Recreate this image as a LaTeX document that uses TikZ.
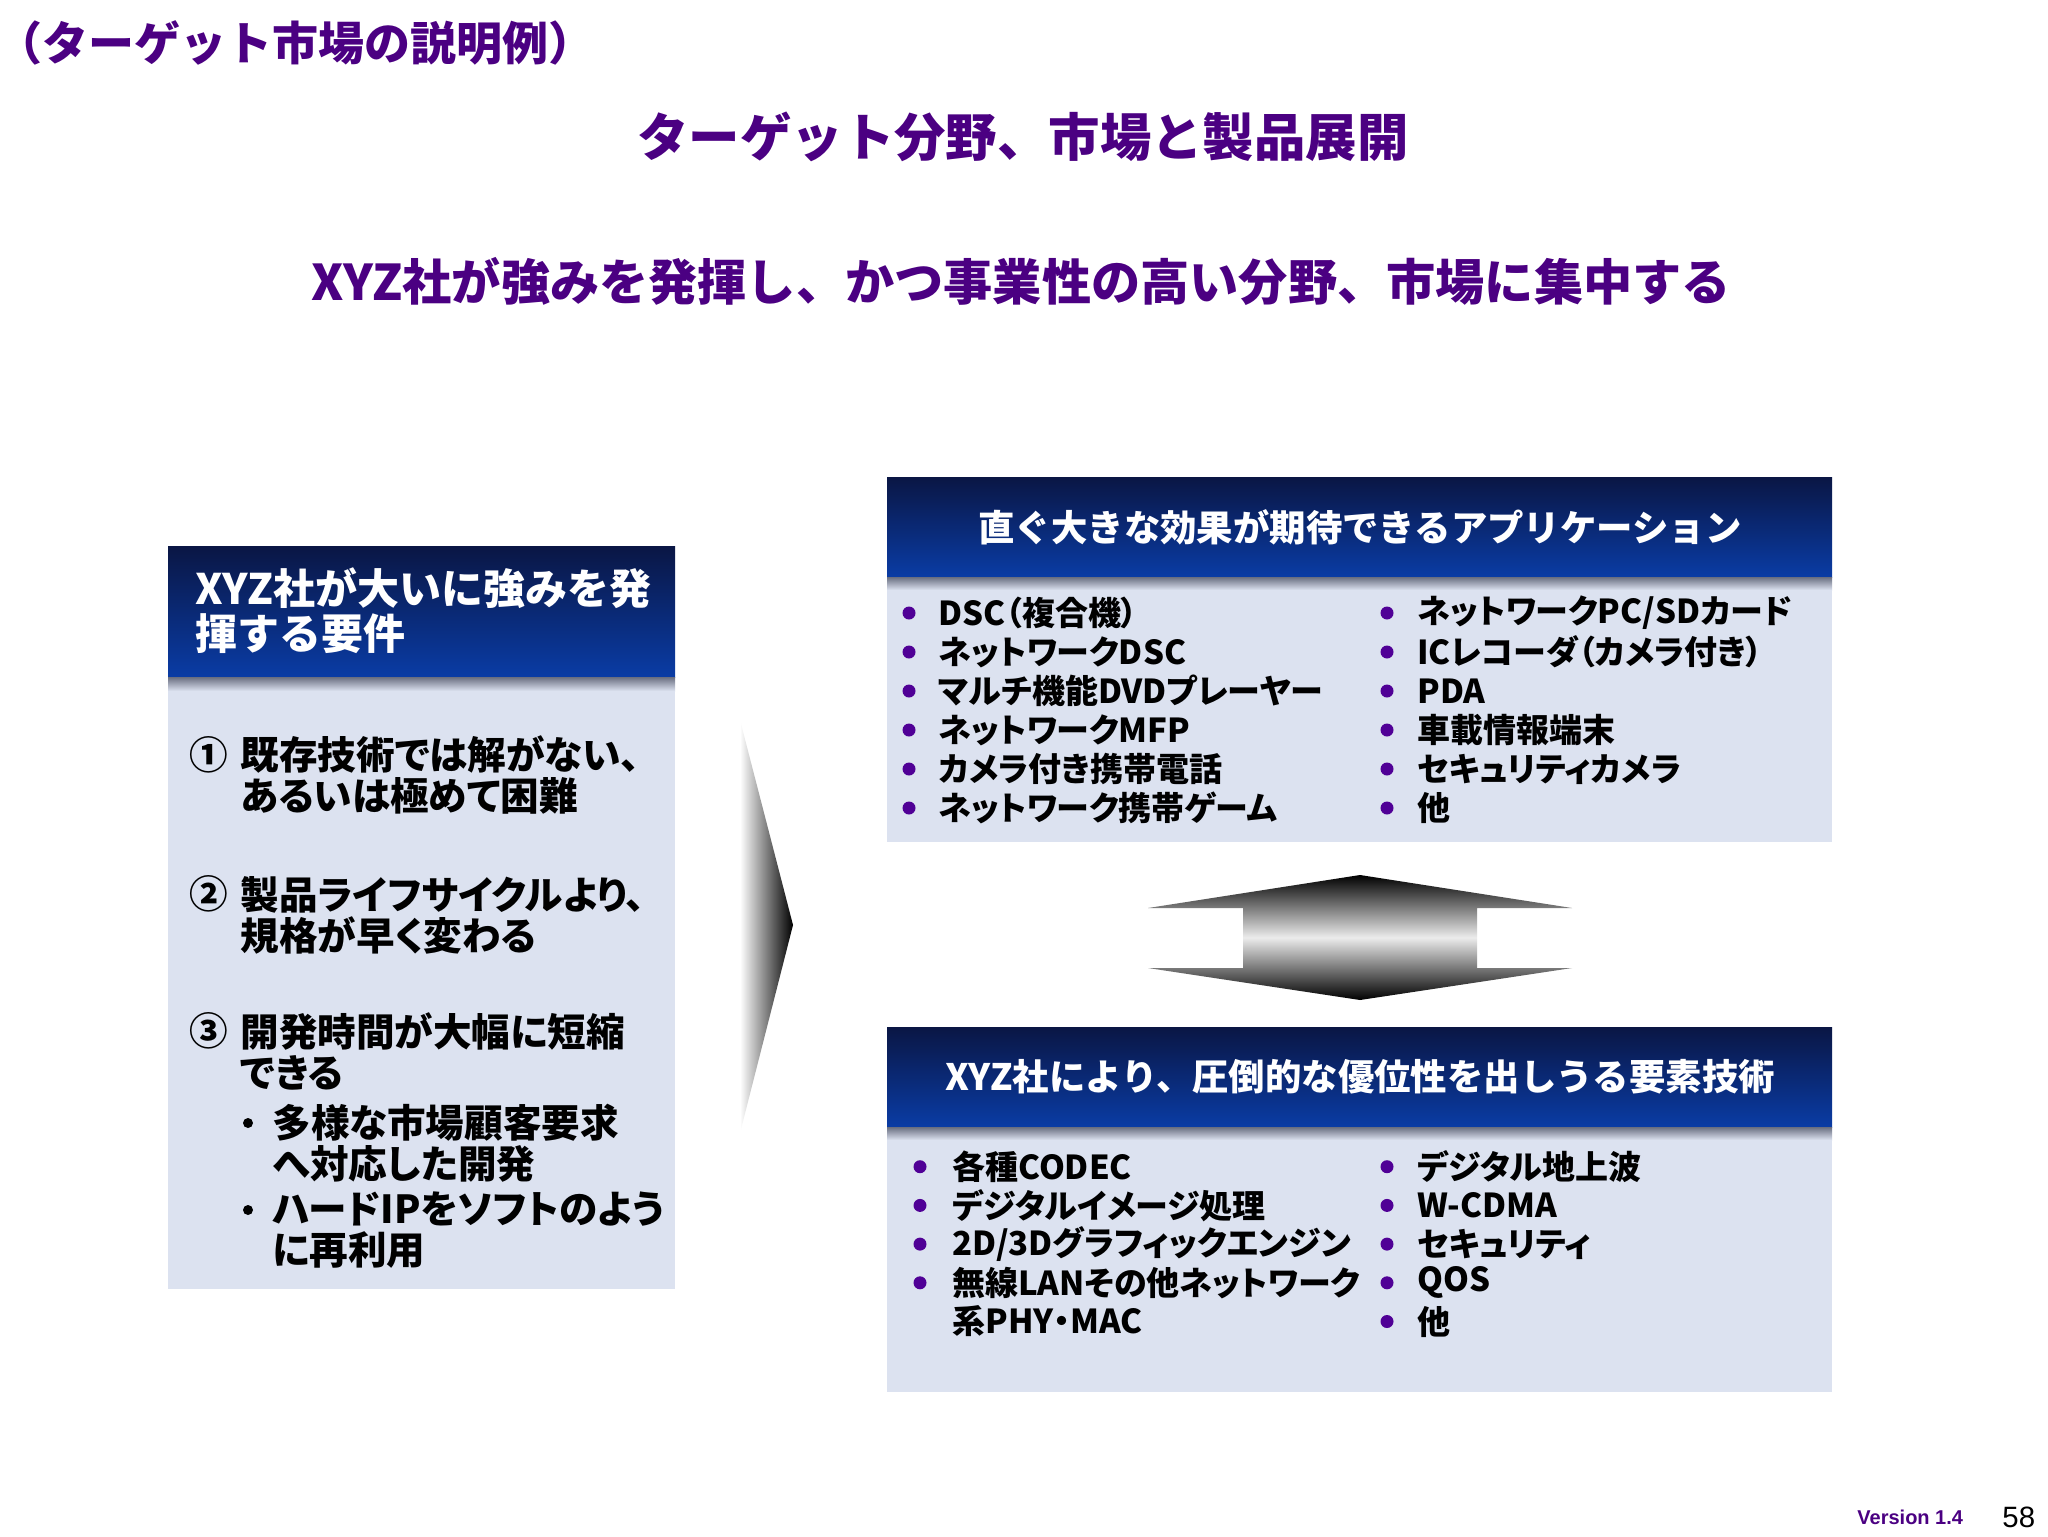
\documentclass[tikz,border=0pt]{standalone}
\usepackage{fontspec}
\setmainfont{Noto Sans CJK JP}
\newfontfamily\jpp[RawFeature=+palt]{Noto Sans CJK JP}
\newfontfamily\arialf{Liberation Sans}
\definecolor{purp}{RGB}{75,0,130}
\definecolor{hdrtop}{RGB}{10,22,68}
\definecolor{hdrbot}{RGB}{10,60,165}
\definecolor{bodyc}{RGB}{220,226,240}
\definecolor{shadowc}{RGB}{105,110,128}
\definecolor{bulc}{RGB}{80,0,150}
\definecolor{midgray}{RGB}{236,236,236}
\tikzset{
  ttl/.style={text=purp, inner sep=0pt},
  hdrtxt/.style={text=white, inner sep=0pt, font=\fontsize{18.2pt}{22pt}\selectfont\bfseries},
  lefttxt/.style={anchor=west, inner sep=0pt, align=left, font=\jpp\fontsize{19.3pt}{20.5pt}\selectfont\bfseries},
  item/.style={anchor=west, inner sep=0pt, font=\jpp\fontsize{16.5pt}{19pt}\selectfont\bfseries},
  dot/.style={circle, fill=bulc, inner sep=0pt, minimum size=6.5pt},
  bdot/.style={circle, fill=black, inner sep=0pt, minimum size=5pt},
}
\begin{document}
\begin{tikzpicture}[x=0.5pt,y=-0.5pt]
\useasboundingbox (0,0) rectangle (2048,1536);
\fill[white] (0,0) rectangle (2048,1536);

% titles
\node[ttl, anchor=west, font=\fontsize{23pt}{25pt}\selectfont\bfseries] (t1) at (-4,43) {（ターゲット市場の説明例）};
\node[ttl, font=\fontsize{25.7pt}{28pt}\selectfont\bfseries] (t2) at (1023,137) {ターゲット分野、市場と製品展開};
\node[ttl, font=\fontsize{24.6pt}{28pt}\selectfont\bfseries] (t3) at (1021,281) {XYZ社が強みを発揮し、かつ事業性の高い分野、市場に集中する};

% ---------- left box
\fill[bodyc] (168,690) rectangle (675,1289);
\shade[top color=hdrtop, bottom color=hdrbot] (168,546) rectangle (675,677);
\shade[top color=shadowc, bottom color=bodyc] (168,677) rectangle (675,691);
\node[hdrtxt, anchor=west, align=left, font=\fontsize{21pt}{22.5pt}\selectfont\bfseries] (lh) at (195,611) {XYZ社が大いに強みを発\\揮する要件};

\node[lefttxt] (n1) at (189,755) {①};
\node[lefttxt] (l1) at (240,775) {既存技術では解がない、\\あるいは極めて困難};
\node[lefttxt] (n2) at (189,894) {②};
\node[lefttxt] (l2) at (240,915) {製品ライフサイクルより、\\規格が早く変わる};
\node[lefttxt] (n3) at (189,1031) {③};
\node[lefttxt] (l3) at (240,1051) {開発時間が大幅に短縮\\できる};
\node[bdot] (b1) at (248,1123) {};
\node[lefttxt] (l4) at (272,1143) {多様な市場顧客要求\\へ対応した開発};
\node[bdot] (b2) at (248,1210) {};
\node[lefttxt] (l5) at (272,1230) {ハードIPをソフトのよう\\に再利用};

% ---------- chevron
\shade[left color=white, right color=black] (740,720) -- (793,925) -- (740,1133) -- cycle;

% ---------- right top box
\fill[bodyc] (887,589) rectangle (1832,842);
\shade[top color=hdrtop, bottom color=hdrbot] (887,477) rectangle (1832,577);
\shade[top color=shadowc, bottom color=bodyc] (887,577) rectangle (1832,590);
\node[hdrtxt] (rh1) at (1360,527) {直ぐ大きな効果が期待できるアプリケーション};

\foreach \t [count=\i] in {DSC（複合機）,ネットワークDSC,マルチ機能DVDプレーヤー,ネットワークMFP,カメラ付き携帯電話,ネットワーク携帯ゲーム}{
  \node[dot] (ad\i) at (909,{574+39*\i}) {};
  \node[item] (a\i) at (938,{574+39*\i}) {\t};
}
\foreach \t [count=\i] in {ネットワークPC/SDカード,ICレコーダ（カメラ付き）,PDA,車載情報端末,セキュリティカメラ,他}{
  \node[dot] (bd\i) at (1387,{574+39*\i}) {};
  \node[item] (b\i) at (1417,{574+39*\i}) {\t};
}

% ---------- double arrow
\shade[top color=black, bottom color=black, middle color=midgray]
  (1148,908) -- (1360,875) -- (1572,908) -- (1477,908) -- (1477,968) -- (1572,968)
  -- (1360,1000) -- (1148,968) -- (1243,968) -- (1243,908) -- cycle;

% ---------- right bottom box
\fill[bodyc] (887,1139) rectangle (1832,1392);
\shade[top color=hdrtop, bottom color=hdrbot] (887,1027) rectangle (1832,1127);
\shade[top color=shadowc, bottom color=bodyc] (887,1127) rectangle (1832,1140);
\node[hdrtxt] (rh2) at (1360,1077) {XYZ社により、圧倒的な優位性を出しうる要素技術};

\foreach \t [count=\i] in {各種CODEC,デジタルイメージ処理,2D/3Dグラフィックエンジン,無線LANその他ネットワーク}{
  \node[dot] (cd\i) at (920,{1128+38.7*\i}) {};
  \node[item] (c\i) at (952,{1128+38.7*\i}) {\t};
}
\node[item] (c5) at (952,1321) {系PHY・MAC};
\foreach \t [count=\i] in {デジタル地上波,W-CDMA,セキュリティ,QOS,他}{
  \node[dot] (dd\i) at (1387,{1128+38.7*\i}) {};
  \node[item] (d\i) at (1417,{1128+38.7*\i}) {\t};
}

% ---------- footer
\node[anchor=west, inner sep=0pt, text=purp, font=\arialf\bfseries\fontsize{10pt}{12pt}\selectfont] (ver) at (1857,1517) {Version 1.4};
\node[anchor=west, inner sep=0pt, font=\arialf\fontsize{14.7pt}{17pt}\selectfont] (pg) at (2002,1517) {58};
\end{tikzpicture}
\end{document}
